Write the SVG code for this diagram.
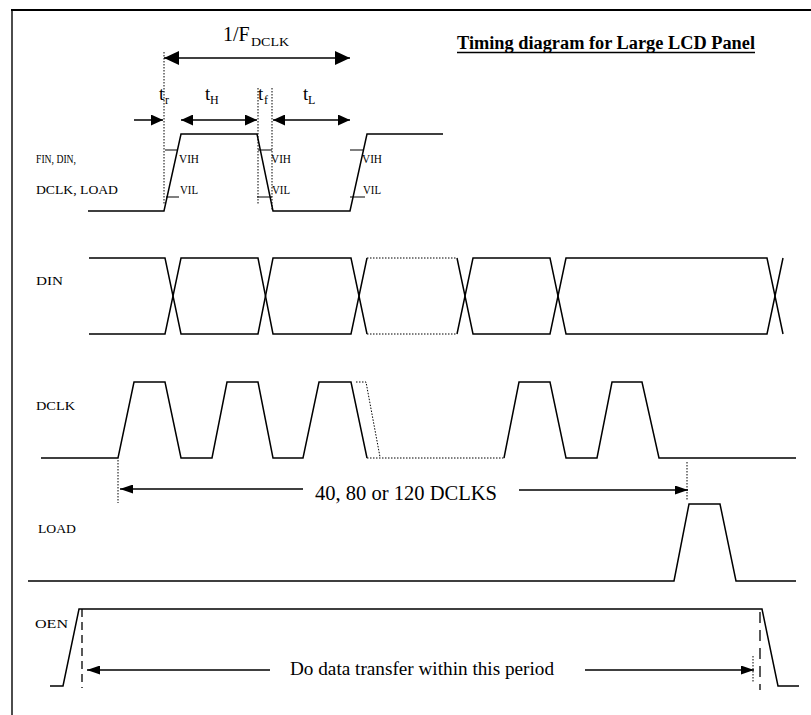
<svg xmlns="http://www.w3.org/2000/svg" width="811" height="715" viewBox="0 0 811 715">
<defs>
<style>
.w{fill:none;stroke:#000;stroke-width:1.5;stroke-linejoin:miter}
.dot{fill:none;stroke:#000;stroke-width:1;stroke-dasharray:1.5 1.5}
.dash{fill:none;stroke:#000;stroke-width:1.3}
.ar{fill:none;stroke:#000;stroke-width:1.5}
.tk{fill:none;stroke:#000;stroke-width:1.2}
.t{font-family:"Liberation Serif","Times New Roman",serif;fill:#000}
.lbl{font-size:12.5px}
.vv{font-size:13px}
</style>
<marker id="mL" viewBox="0 0 15 14" refX="15" refY="7" markerWidth="15" markerHeight="14" markerUnits="userSpaceOnUse" orient="auto-start-reverse"><path d="M0,0L15,7L0,14z" fill="#000"/></marker>
<marker id="mM" viewBox="0 0 12 11" refX="12" refY="5.5" markerWidth="12" markerHeight="11" markerUnits="userSpaceOnUse" orient="auto-start-reverse"><path d="M0,0L12,5.5L0,11z" fill="#000"/></marker>
<marker id="mS" viewBox="0 0 13 9" refX="13" refY="4.5" markerWidth="13" markerHeight="9" markerUnits="userSpaceOnUse" orient="auto-start-reverse"><path d="M0,0L13,4.5L0,9z" fill="#000"/></marker>
</defs>
<rect width="811" height="715" fill="#fff"/>
<g id="frame">
<line x1="11" y1="10" x2="811" y2="10" stroke="#000" stroke-width="2.2"/>
<line x1="12" y1="9" x2="12" y2="715" stroke="#000" stroke-width="1.4"/>
</g>
<g id="title">
<text class="t" x="457" y="49" font-size="18" font-weight="bold" textLength="298" lengthAdjust="spacingAndGlyphs">Timing diagram for Large LCD Panel</text>
<line x1="457" y1="52.5" x2="755" y2="52.5" stroke="#000" stroke-width="1.5"/>
</g>
<g id="sig-fin">
<text class="t lbl" x="36" y="163" textLength="40" lengthAdjust="spacingAndGlyphs">FIN, DIN,</text>
<text class="t lbl" x="36" y="194" textLength="82" lengthAdjust="spacingAndGlyphs">DCLK, LOAD</text>
<polyline class="w" points="88,211 164,211 181,134 257,134 273,211 350,211 367,134 443,134"/>
<path class="tk" d="M165,150H177M258,150H272M350,150H363M166,197H179M257,197H272M350,197H365"/>
<g class="t vv">
<text x="179" y="163" textLength="20" lengthAdjust="spacingAndGlyphs">VIH</text>
<text x="271" y="163" textLength="20" lengthAdjust="spacingAndGlyphs">VIH</text>
<text x="362" y="163" textLength="20" lengthAdjust="spacingAndGlyphs">VIH</text>
<text x="180" y="194" textLength="18" lengthAdjust="spacingAndGlyphs">VIL</text>
<text x="272" y="194" textLength="18" lengthAdjust="spacingAndGlyphs">VIL</text>
<text x="363" y="194" textLength="18" lengthAdjust="spacingAndGlyphs">VIL</text>
</g>
</g>
<g id="timing-labels">
<text class="t" x="223" y="41" font-size="20">1/F</text>
<text class="t" x="251" y="46" font-size="12" textLength="38" lengthAdjust="spacingAndGlyphs">DCLK</text>
<text class="t" x="159" y="100" font-size="19">t</text>
<text class="t" x="165" y="104" font-size="12">r</text>
<text class="t" x="205" y="100" font-size="19">t</text>
<text class="t" x="210" y="104" font-size="12">H</text>
<text class="t" x="258" y="100" font-size="19">t</text>
<text class="t" x="264" y="104" font-size="12">f</text>
<text class="t" x="303" y="100" font-size="19">t</text>
<text class="t" x="308" y="104" font-size="12">L</text>
</g>
<g id="sig-din">
<text class="t lbl" x="36" y="285" textLength="27" lengthAdjust="spacingAndGlyphs">DIN</text>
<polyline class="w" points="89,258 165,258 181,334 258,334 273,258 351,258 367,334"/>
<polyline class="w" points="89,334 165,334 181,258 258,258 273,334 351,334 367,258"/>
<path class="dot" d="M367,258H457M367,334H457"/>
<polyline class="w" points="457,258 473,334 550,334 566,258 767,258 783,334"/>
<polyline class="w" points="457,334 473,258 550,258 566,334 767,334 783,258"/>
</g>
<g id="sig-dclk">
<text class="t lbl" x="36" y="410" textLength="39" lengthAdjust="spacingAndGlyphs">DCLK</text>
<polyline class="w" points="41,458 118,458 134,382 165,382 181,458 212,458 227,382 258,382 273,458 303,458 319,382 351,382 367,458"/>
<path class="dot" d="M367,458H504"/>
<polyline class="dot" points="356,382 366,382 380,457"/>
<polyline class="w" points="504,458 519,382 550,382 566,458 597,458 612,382 642,382 659,458 796,458"/>
</g>
<g id="sig-load">
<text class="t lbl" x="38" y="533" textLength="38" lengthAdjust="spacingAndGlyphs">LOAD</text>
<polyline class="w" points="28,581 674,581 689,504 720,504 736,581 796,581"/>
</g>
<g id="sig-oen">
<text class="t lbl" x="35" y="628" textLength="33" lengthAdjust="spacingAndGlyphs">OEN</text>
<polyline class="w" points="50,686 63,686 79,609 762,609 778,686 799,686"/>
</g>
<g id="connectors">
<path class="dot" d="M164,52V205M258,88V205M272,88V211M118,460V503M687,462V500M753,656V682"/>
<line class="ar" x1="164" y1="58" x2="350" y2="58" marker-start="url(#mL)" marker-end="url(#mL)"/>
<line class="ar" x1="134" y1="120" x2="163" y2="120" marker-end="url(#mM)"/>
<line class="ar" x1="181" y1="120" x2="257" y2="120" marker-start="url(#mM)" marker-end="url(#mM)"/>
<line class="ar" x1="273" y1="120" x2="350" y2="120" marker-start="url(#mM)" marker-end="url(#mM)"/>
<line class="ar" x1="303" y1="489" x2="120" y2="489" marker-end="url(#mS)"/>
<line class="ar" x1="519" y1="490" x2="688" y2="490" marker-end="url(#mS)"/>
<line class="ar" x1="270" y1="670" x2="87" y2="670" marker-end="url(#mS)"/>
<line class="ar" x1="585" y1="670" x2="754" y2="670" marker-end="url(#mS)"/>
<line class="dash" x1="82" y1="609" x2="82" y2="688" stroke-dasharray="8 5"/>
<line class="dash" x1="760" y1="612" x2="760" y2="690" stroke-dasharray="11 7"/>
<text class="t" x="315" y="500" font-size="20" textLength="182" lengthAdjust="spacingAndGlyphs">40, 80 or 120 DCLKS</text>
<text class="t" x="290" y="675" font-size="19" textLength="264" lengthAdjust="spacingAndGlyphs">Do data transfer within this period</text>
</g>
</svg>
